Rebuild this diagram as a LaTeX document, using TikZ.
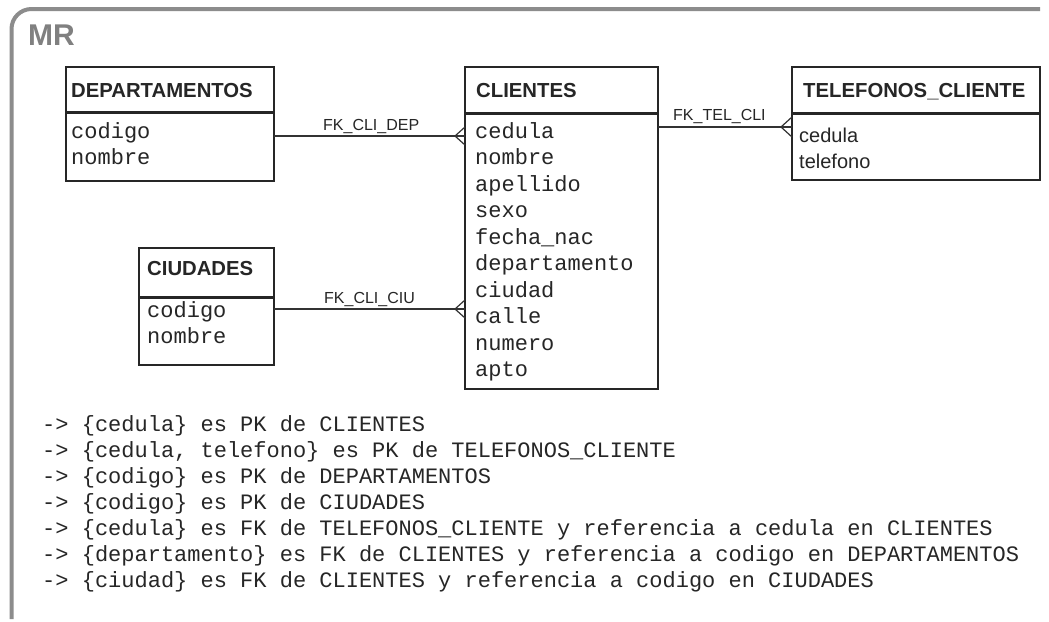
\documentclass[tikz,border=0pt]{standalone}
\usepackage{fontspec}
\setmainfont{Liberation Sans}
\setmonofont{Liberation Mono}
\usetikzlibrary{calc}

\begin{document}
\begin{tikzpicture}[
		x=1pt, y=-1pt,
		tabla/.style={draw=black!85, line width=1.4pt, inner sep=0pt, outer sep=0pt, anchor=north west},
		separa/.style={draw=black!85, line width=3pt},
		titulo/.style={anchor=base west, inner sep=0pt, text=black!85, font=\fontsize{20.3}{24}\selectfont\bfseries},
		campo/.style={anchor=base west, inner sep=0pt, text=black!85, font=\fontsize{22}{26}\selectfont\ttfamily},
		camposf/.style={campo, font=\fontsize{20}{24}\selectfont},
		etiqueta/.style={anchor=base west, inner sep=0pt, text=black!85, font=\fontsize{16}{19}\selectfont},
		rel/.style={draw=black!80, line width=1.2pt}
		]
		
		% Fondo y marco
		\fill[white] (0,0) rectangle (1049,621);
		\useasboundingbox (0,0) rectangle (1049,621);
		\draw[black!45, line width=4pt, rounded corners=20pt] (1040,9) -- (11.5,9) -- (11.5,619);
		\node[anchor=base west, inner sep=0pt, text=black!50, font=\fontsize{30}{36}\selectfont\bfseries] (mr) at (28,45) {MR};
		
		% Tablas
		\node[tabla, minimum width=208pt, minimum height=114pt] (dep) at (66,67) {};
		\draw[separa] ($(dep.north west)+(0,45)$) -- ($(dep.north east)+(0,45)$);
		\node[titulo] (dep-tit) at (71,97) {DEPARTAMENTOS};
		\node[campo] (dep-codigo) at (71,138) {codigo};
		\node[campo] (dep-nombre) at (71,164.5) {nombre};
		
		\node[tabla, minimum width=193pt, minimum height=322pt] (cli) at (465,67) {};
		\draw[separa] ($(cli.north west)+(0,46)$) -- ($(cli.north east)+(0,46)$);
		\node[titulo] (cli-tit) at (476,97) {CLIENTES};
		\foreach \f [count=\i from 0] in {cedula, nombre, apellido, sexo, fecha\_nac, departamento, ciudad, calle, numero, apto}
			\node[campo] (cli\i) at (475,138+26.5*\i) {\f};
		
		\node[tabla, minimum width=248pt, minimum height=113pt] (tel) at (792,67) {};
		\draw[separa] ($(tel.north west)+(0,46)$) -- ($(tel.north east)+(0,46)$);
		\node[titulo] (tel-tit) at (803,97) {TELEFONOS\_CLIENTE};
		\node[camposf] (tel-cedula) at (799,142) {cedula};
		\node[camposf] (tel-telefono) at (799,168) {telefono};
		
		\node[tabla, minimum width=135pt, minimum height=117pt] (ciu) at (139,248) {};
		\draw[separa] ($(ciu.north west)+(0,49)$) -- ($(ciu.north east)+(0,49)$);
		\node[titulo] (ciu-tit) at (147,275) {CIUDADES};
		\node[campo] (ciu-codigo) at (147,317) {codigo};
		\node[campo] (ciu-nombre) at (147,343) {nombre};
		
		% Relaciones
		\draw[rel] (dep.east |- 0,136) -- (cli.west |- 0,136);
		\draw[rel] (cli.west |- 0,136) ++(-10,0) -- ++(10,-9) ++(-10,9) -- ++(10,9);
		\node[etiqueta] (fk-dep) at (323,130) {FK\_CLI\_DEP};
		
		\draw[rel] (cli.east |- 0,127) -- (tel.west |- 0,127);
		\draw[rel] (tel.west |- 0,127) ++(-11,0) -- ++(11,-10) ++(-11,10) -- ++(11,10);
		\node[etiqueta] (fk-tel) at (673,120) {FK\_TEL\_CLI};
		
		\draw[rel] (ciu.east |- 0,309) -- (cli.west |- 0,309);
		\draw[rel] (cli.west |- 0,309) ++(-10,0) -- ++(10,-9) ++(-10,9) -- ++(10,9);
		\node[etiqueta] (fk-ciu) at (324,303) {FK\_CLI\_CIU};
		
		% Notas
		\foreach \t [count=\i from 0] in {
			{-> \{cedula\} es PK de CLIENTES},
			{-> \{cedula, telefono\} es PK de TELEFONOS\_CLIENTE},
			{-> \{codigo\} es PK de DEPARTAMENTOS},
			{-> \{codigo\} es PK de CIUDADES},
			{-> \{cedula\} es FK de TELEFONOS\_CLIENTE y referencia a cedula en CLIENTES},
			{-> \{departamento\} es FK de CLIENTES y referencia a codigo en DEPARTAMENTOS},
			{-> \{ciudad\} es FK de CLIENTES y referencia a codigo en CIUDADES}}
			\node[campo] (nota\i) at (42,431+26*\i) {\t};
		
	\end{tikzpicture}
\end{document}
